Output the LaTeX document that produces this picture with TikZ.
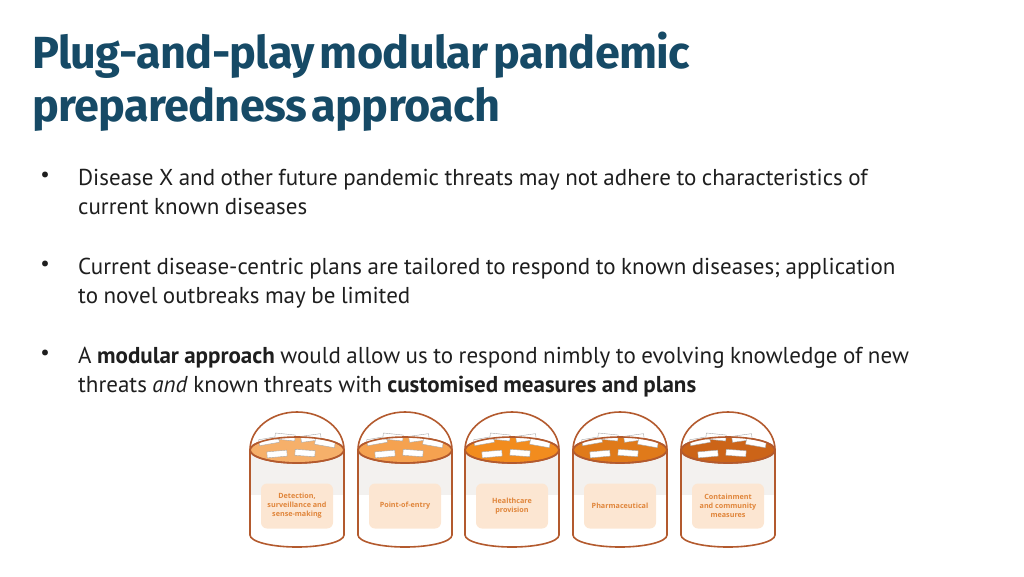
\documentclass[tikz,border=0pt]{standalone}
\usepackage{fontspec}
\setmainfont[WordSpace=0.9]{PT Sans}
\newfontfamily\ttl[WordSpace=0.5,LetterSpace=-1.5]{Fira Sans}
\newfontfamily\lbl{Open Sans}
\definecolor{navy}{HTML}{164A66}
\definecolor{txt}{HTML}{1E1E1E}
\definecolor{brd}{HTML}{B35A2E}
\definecolor{lab}{HTML}{E0853A}
\definecolor{boxf}{HTML}{FCE6D2}
\definecolor{band}{HTML}{F3F1EF}
\definecolor{oA}{HTML}{F6B06A}
\definecolor{oB}{HTML}{F5A250}
\definecolor{oC}{HTML}{F28C1E}
\definecolor{oD}{HTML}{E07A1A}
\definecolor{oE}{HTML}{CC6418}
\tikzset{
 body/.style={font=\fontsize{23}{29}\selectfont, color=txt, anchor=north west, align=left, inner sep=0pt},
 bul/.style={font=\fontsize{21}{29}\selectfont, color=txt, anchor=north, inner sep=0pt},
 lblbox/.style={draw=none, fill=boxf, rounded corners=6pt, minimum width=72pt, minimum height=45pt, align=center, text=lab, font=\lbl\bfseries\fontsize{7.2}{9}\selectfont, inner sep=1pt},
 outl/.style={draw=brd, line width=1.6pt}
}
\newcommand{\bucket}[4]{% x, color, name, label
 \begin{scope}[shift={(#1,0)}]
  \fill[band] (-47,450) rectangle (47,495);
  \draw[outl] (-47,450) arc[start angle=180,end angle=360,x radius=47,y radius=38];
  \draw[outl] (-47,450) -- (-47,535) arc[start angle=180,end angle=0,x radius=47,y radius=12] -- (47,450);
  \draw[outl,fill=#2] (0,450) ellipse[x radius=47,y radius=13];
  \foreach \a/\b/\r in {-28/441/10,-12/437/-6,14/438/8,28/443/-10,-20/454/5,8/453/-4}{
   \draw[gray!70,fill=white,line width=0.4pt,rotate around={\r:(\a,\b)}] (\a-10,\b-3) rectangle (\a+10,\b+3);}
  \draw[outl] (0,450) ellipse[x radius=47,y radius=13];
  \node[lblbox] (#3) at (0,506) {#4};
 \end{scope}}
\begin{document}
\begin{tikzpicture}[x=1pt,y=-1pt]
\useasboundingbox (0,0) rectangle (1024,576);
\node[anchor=north west, inner sep=0pt, align=left, text=navy, font=\ttl\bfseries\fontsize{45}{53}\selectfont] (title) at (32,32) {Plug-and-play modular pandemic\\preparedness approach};
\node[bul] (b1) at (45,172) {•};
\node[body] (t1) at (78,169) {Disease X and other future pandemic threats may not adhere to characteristics of\\current known diseases};
\node[bul] (b2) at (45,261) {•};
\node[body] (t2) at (78,258) {Current disease-centric plans are tailored to respond to known diseases; application\\to novel outbreaks may be limited};
\node[bul] (b3) at (45,350) {•};
\node[body] (t3) at (78,347) {A \textbf{modular approach} would allow us to respond nimbly to evolving knowledge of new\\threats \textit{and} known threats with \textbf{customised measures and plans}};
\bucket{297}{oA}{k1}{Detection,\\surveillance and\\sense-making}
\bucket{405}{oB}{k2}{Point-of-entry}
\bucket{512}{oC}{k3}{Healthcare\\provision}
\bucket{620}{oD}{k4}{Pharmaceutical}
\bucket{728}{oE}{k5}{Containment\\and community\\measures}
\end{tikzpicture}
\end{document}
